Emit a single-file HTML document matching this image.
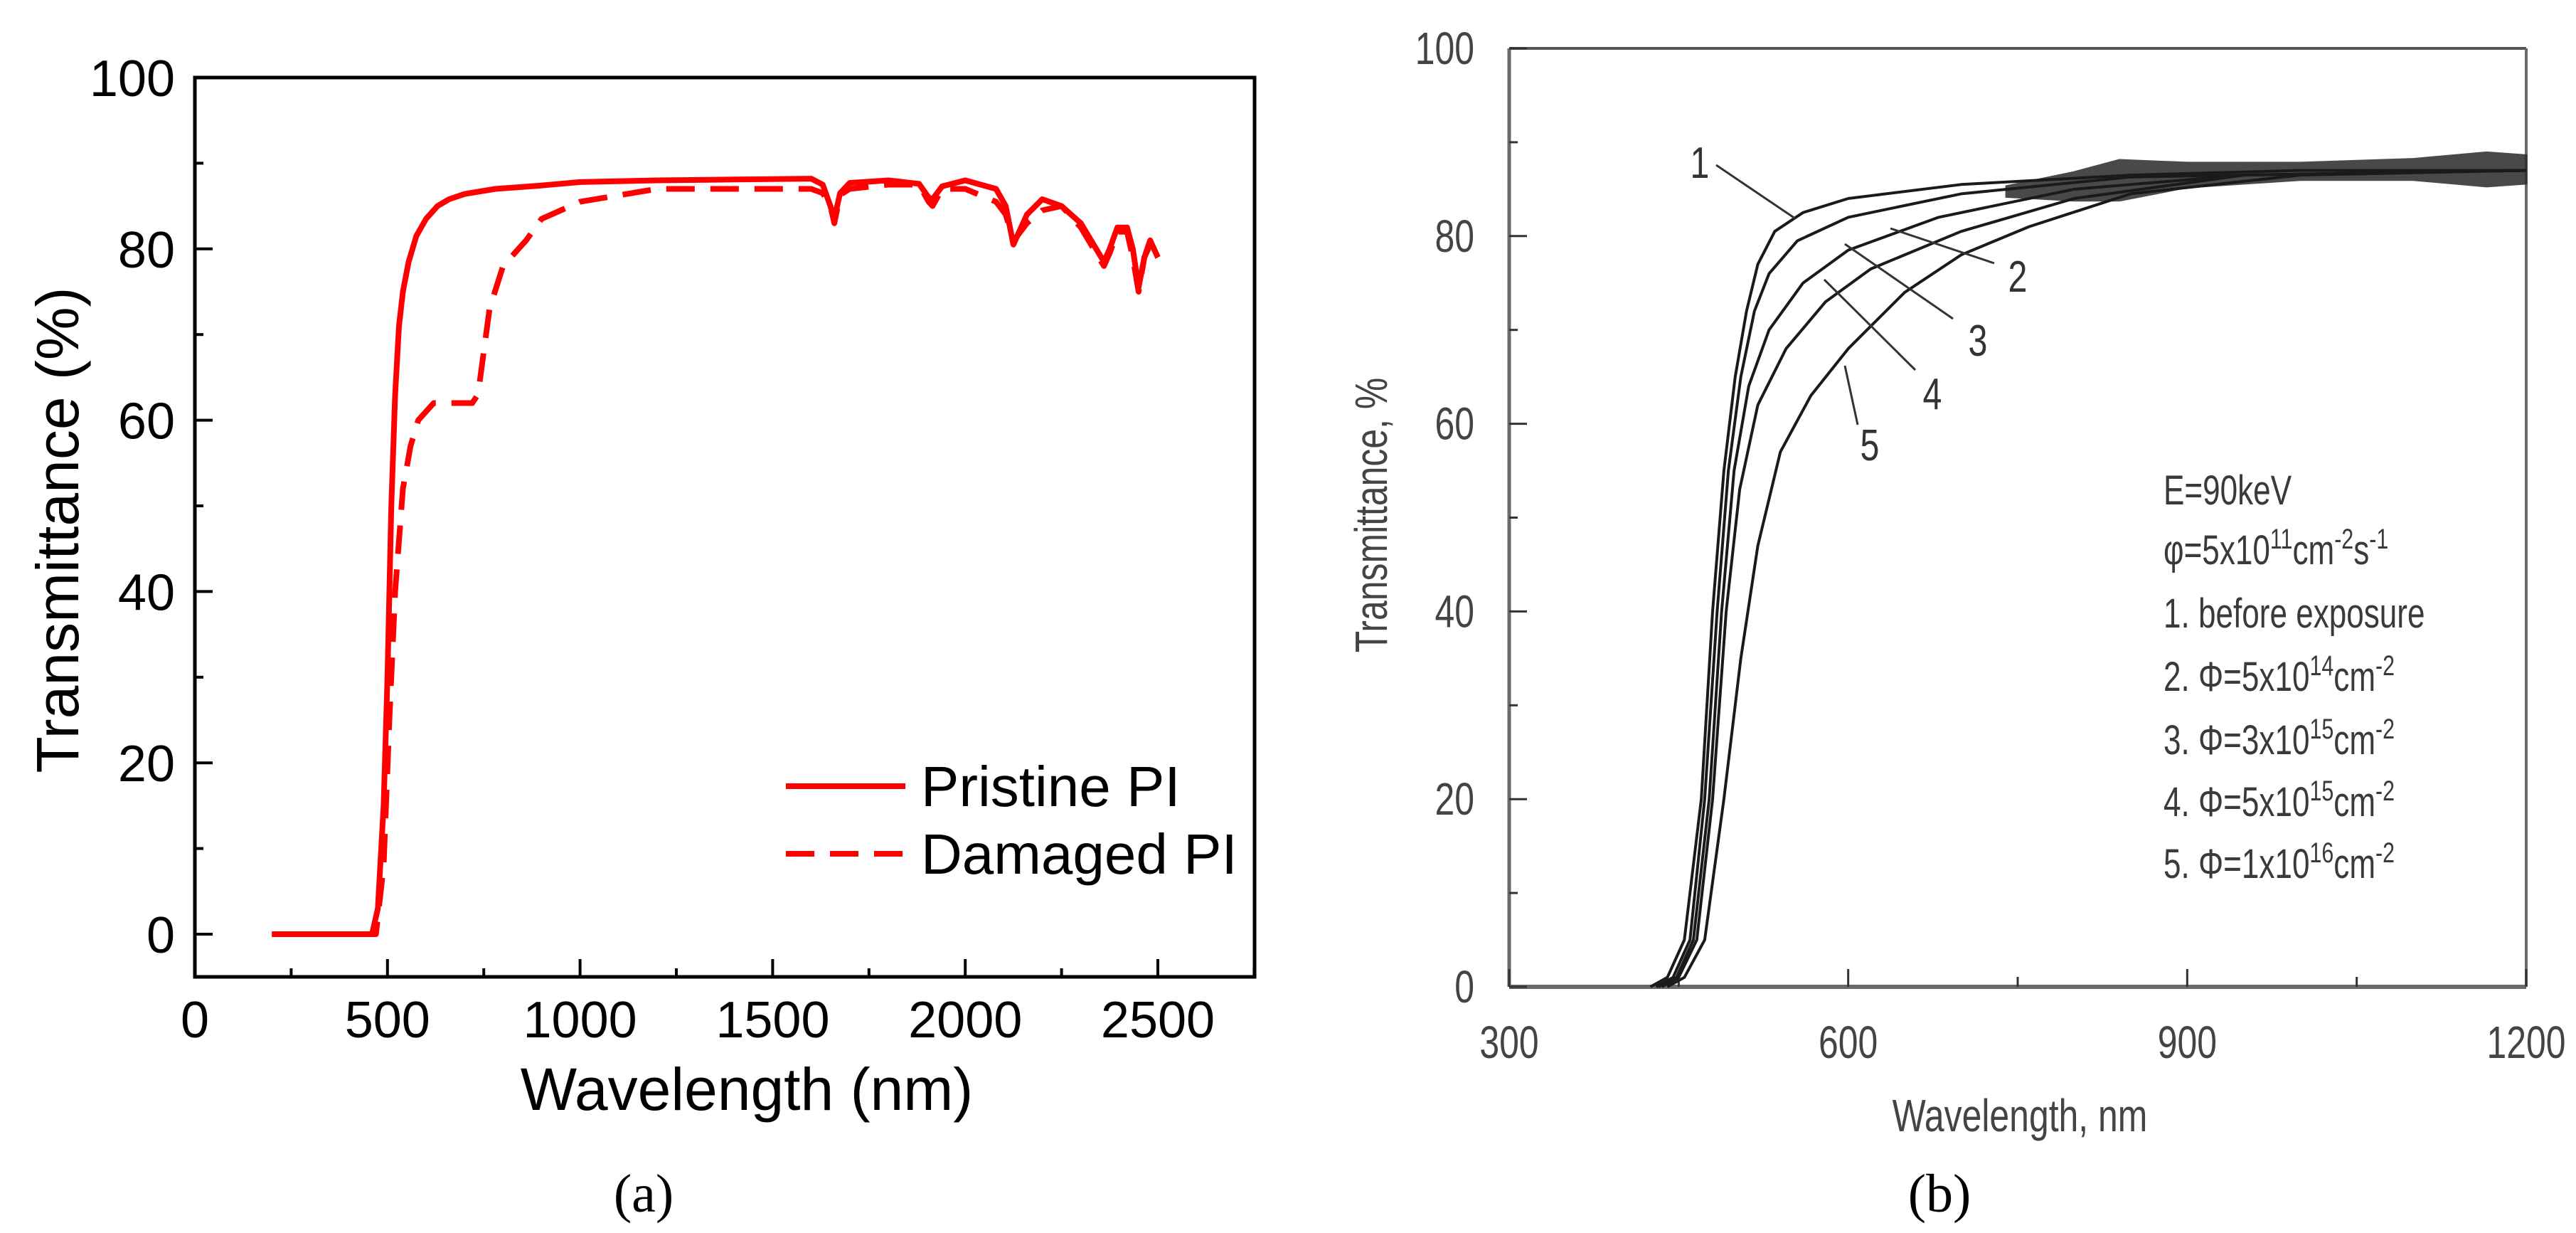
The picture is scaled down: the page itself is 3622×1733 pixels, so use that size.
<!DOCTYPE html>
<html><head><meta charset="utf-8"><style>
html,body{margin:0;padding:0;background:#fff}
svg{display:block}
text{font-family:"Liberation Sans",sans-serif}
</style></head><body>
<svg id="fig" width="3622" height="1733" viewBox="0 0 3622 1733" xmlns="http://www.w3.org/2000/svg">
<g id="pa"></g>
<g id="pb"></g>
<text x="905" y="1703" font-size="76" text-anchor="middle" style="font-family:'Liberation Serif',serif">(a)</text>
<text x="2727" y="1703" font-size="76" text-anchor="middle" style="font-family:'Liberation Serif',serif">(b)</text>
</svg>
<script>
// ---- Panel (a) data ----
const aPristineX = [200,460,475,490,500,510,520,530,540,555,575,600,630,660,700,780,900,1000,1200,1400,1600,1630,1650,1660,1675,1700,1800,1880,1905,1915,1940,2000,2080,2105,2125,2135,2160,2200,2250,2300,2340,2360,2375,2395,2420,2435,2450,2465,2480,2500];
const aPristineY = [0,0,3,15,30,50,63,71,75,78.5,81.5,83.5,85,85.8,86.4,87,87.4,87.8,88,88.1,88.2,87.5,85,83.5,86.5,87.7,88,87.6,86,85.8,87.3,88,87,85,80.5,81.5,84,85.8,85,83,80,78.5,80,82.5,82.5,80,75.5,79,81,79];
const aDamagedX = [200,470,490,505,520,540,560,580,620,680,720,735,750,765,800,860,900,1000,1200,1400,1600,1630,1650,1660,1675,1700,1800,1880,1905,1915,1940,2000,2080,2105,2125,2135,2160,2200,2250,2300,2340,2360,2375,2395,2420,2435,2450,2465,2480,2500];
const aDamagedY = [0,0,8,25,40,52,57,60,62,62,62,63,68,73,78,81,83.5,85.5,87,87,87,86.5,85,83,86.3,87,87.5,87.5,85.5,85,87,87,85.5,84,81,81.5,83,84.5,85,82.5,79.5,78,79.5,82,82,79,75,79,80.5,79];
const aXTicks = [0,500,1000,1500,2000,2500];
const aYTicks = [0,20,40,60,80,100];

// ---- Panel (b) data ----
const bCurve1X = [425,440,455,470,480,490,500,510,520,535,560,600,700,850,1000,1200];
const bCurve1Y = [0,1,5,20,40,55,65,72,77,80.5,82.5,84,85.5,86.5,87,87];
const bCurve2X = [430,445,460,473,484,494,505,517,530,555,600,700,850,1200];
const bCurve2Y = [0,1,5,20,40,55,65,72,76,79.5,82,84.5,86.3,87];
const bCurve3X = [432,448,463,477,488,499,512,530,560,600,680,800,950,1200];
const bCurve3Y = [0,1,5,20,40,55,64,70,75,78.5,82,85,86.5,87];
const bCurve4X = [435,450,466,480,492,504,520,545,580,620,700,800,950,1200];
const bCurve4Y = [0,1,5,20,40,53,62,68,73,76.5,80.5,84,86.5,87];
const bCurve5X = [440,455,473,490,505,520,540,567,600,650,700,760,850,1000,1200];
const bCurve5Y = [0,1,5,20,35,47,57,63,68,74,78,81,84.5,86.5,87];
const bRippleX = [740,800,840,900,1000,1100,1165,1200];
const bRippleHi = [85.3,86.8,88.1,87.8,87.8,88.2,88.9,88.6];
const bRippleLo = [84.2,83.8,83.8,85.2,86,86,85.3,85.6];
const bXTicks = [300,600,900,1200];
const bXMinor = [450,750,1050];
const bYTicks = [0,20,40,60,80,100];
const bYMinor = [10,30,50,70,90];

const NS="http://www.w3.org/2000/svg";
function mk(parent, tag, attrs){const e=document.createElementNS(NS,tag);for(const k in attrs)e.setAttribute(k,attrs[k]);parent.appendChild(e);return e;}
function pathD(xs,ys,sx,sy){return xs.map((x,i)=>(i?'L':'M')+sx(x).toFixed(1)+','+sy(ys[i]).toFixed(1)).join('');}

// ---------- Panel A ----------
const pa=document.getElementById('pa');
const ax=v=>274+(v/2500)*(1628-274);
const ay=v=>1313-(v/100)*(1313-109);
const aLeft=274,aRight=1764,aTop=109,aBot=1373;
let e;
e=mk(pa,'rect',{x:aLeft,y:aTop,width:aRight-aLeft,height:aBot-aTop,fill:'none',stroke:'#000','stroke-width':5});


for(let v=0;v<=2750;v+=250){
  const maj=(v%500===0);
  e=mk(pa,'line',{x1:ax(v),x2:ax(v),y1:aBot,y2:aBot-(maj?25:12),stroke:'#000','stroke-width':4});
  
  
}
aXTicks.forEach(v=>{
  e=mk(pa,'text',{x:ax(v),y:1458,'font-size':72,'text-anchor':'middle'});e.textContent=v;
  
  
});
for(let v=0;v<=100;v+=10){
  const maj=(v%20===0);
  e=mk(pa,'line',{x1:aLeft,x2:aLeft+(maj?25:12),y1:ay(v),y2:ay(v),stroke:'#000','stroke-width':4});
  
  
}
aYTicks.forEach(v=>{
  e=mk(pa,'text',{x:246,y:ay(v)+26,'font-size':72,'text-anchor':'end'});e.textContent=v;
  
  
});
e=mk(pa,'text',{x:1050,y:1560,'font-size':84,'text-anchor':'middle'});e.textContent='Wavelength (nm)';


e=mk(pa,'text',{x:0,y:0,'font-size':84,'text-anchor':'middle',transform:'translate(110,745) rotate(-90)'});e.textContent='Transmittance (%)';


e=mk(pa,'path',{d:pathD(aDamagedX,aDamagedY,ax,ay),fill:'none',stroke:'#ff0000','stroke-width':8,'stroke-dasharray':'40,22','stroke-linejoin':'round'});


e=mk(pa,'path',{d:pathD(aPristineX,aPristineY,ax,ay),fill:'none',stroke:'#ff0000','stroke-width':8,'stroke-linejoin':'round'});


e=mk(pa,'line',{x1:1105,x2:1273,y1:1105,y2:1105,stroke:'#ff0000','stroke-width':8});


e=mk(pa,'text',{x:1295,y:1133,'font-size':80});e.textContent='Pristine PI';


e=mk(pa,'line',{x1:1105,x2:1273,y1:1200,y2:1200,stroke:'#ff0000','stroke-width':8,'stroke-dasharray':'40,22'});


e=mk(pa,'text',{x:1295,y:1228,'font-size':80});e.textContent='Damaged PI';



// ---------- Panel B ----------
const pb=document.getElementById('pb');
const bLeft=2122,bRight=3552,bTop=68,bBot=1387;
const bx=v=>bLeft+(v-300)/900*(bRight-bLeft);
const by=v=>bBot-(v/100)*(bBot-bTop);
const gray='#6a6a6a';
e=mk(pb,'line',{x1:bLeft,x2:bLeft,y1:bTop,y2:bBot,stroke:gray,'stroke-width':5});


e=mk(pb,'line',{x1:bLeft,x2:bRight,y1:bBot,y2:bBot,stroke:gray,'stroke-width':6});


e=mk(pb,'line',{x1:bLeft,x2:bRight,y1:bTop,y2:bTop,stroke:'#555','stroke-width':4});


e=mk(pb,'line',{x1:bRight,x2:bRight,y1:bTop,y2:bBot,stroke:gray,'stroke-width':4});


bXTicks.forEach(v=>{
  e=mk(pb,'line',{x1:bx(v),x2:bx(v),y1:bBot,y2:bBot-25,stroke:'#333','stroke-width':3});
  
  
  e=mk(pb,'text',{x:0,y:0,'font-size':64,'text-anchor':'middle',fill:'#444',transform:'translate('+bx(v)+',1487) scale(0.78,1)'});e.textContent=v;
  
  
});
bXMinor.forEach(v=>{
  e=mk(pb,'line',{x1:bx(v),x2:bx(v),y1:bBot,y2:bBot-14,stroke:'#333','stroke-width':3});
  
  
});
bYTicks.forEach(v=>{
  e=mk(pb,'line',{x1:bLeft,x2:bLeft+25,y1:by(v),y2:by(v),stroke:'#333','stroke-width':3});
  
  
  e=mk(pb,'text',{x:0,y:0,'font-size':64,'text-anchor':'end',fill:'#444',transform:'translate(2073,'+(by(v)+22)+') scale(0.78,1)'});e.textContent=v;
  
  
});
bYMinor.forEach(v=>{
  e=mk(pb,'line',{x1:bLeft,x2:bLeft+12,y1:by(v),y2:by(v),stroke:'#333','stroke-width':3});
  
  
});
e=mk(pb,'text',{x:0,y:0,'font-size':64,'text-anchor':'middle',fill:'#444',transform:'translate(2840,1590) scale(0.78,1)'});e.textContent='Wavelength, nm';


e=mk(pb,'text',{x:0,y:0,'font-size':64,'text-anchor':'middle',fill:'#444',transform:'translate(1950,724) rotate(-90) scale(0.78,1)'});e.textContent='Transmittance, %';


const band=pathD(bRippleX,bRippleHi,bx,by)+pathD(bRippleX.slice().reverse(),bRippleLo.slice().reverse(),bx,by).replace('M','L')+'Z';
e=mk(pb,'path',{d:band,fill:'#2a2a2a',stroke:'#2a2a2a','stroke-width':3,opacity:0.85});


const curves=[[bCurve1X,bCurve1Y],[bCurve2X,bCurve2Y],[bCurve3X,bCurve3Y],[bCurve4X,bCurve4Y],[bCurve5X,bCurve5Y]];
curves.forEach((c,i)=>{
  e=mk(pb,'path',{d:pathD(c[0],c[1],bx,by),fill:'none',stroke:'#1a1a1a','stroke-width':4,'stroke-linejoin':'round'});
  
  
});
const ann=[['1',2390,250,2413,232,2524,307],['2',2837,410,2658,321,2804,370],['3',2781,500,2594,343,2746,448],['4',2717,575,2565,393,2693,520],['5',2629,647,2594,514,2612,597]];
ann.forEach(a=>{
  e=mk(pb,'line',{x1:a[3],y1:a[4],x2:a[5],y2:a[6],stroke:'#333','stroke-width':3});
  
  
  e=mk(pb,'text',{x:0,y:0,'font-size':62,'text-anchor':'middle',fill:'#333',transform:'translate('+a[1]+','+a[2]+') scale(0.78,1)'});e.textContent=a[0];
  
  
});
const leg=[
 ['E=90keV',709],
 ['φ=5x10<tspan dy="-22" font-size="40">11</tspan><tspan dy="22">cm</tspan><tspan dy="-22" font-size="40">-2</tspan><tspan dy="22">s</tspan><tspan dy="-22" font-size="40">-1</tspan>',793],
 ['1. before exposure',882],
 ['2. Φ=5x10<tspan dy="-22" font-size="40">14</tspan><tspan dy="22">cm</tspan><tspan dy="-22" font-size="40">-2</tspan>',971],
 ['3. Φ=3x10<tspan dy="-22" font-size="40">15</tspan><tspan dy="22">cm</tspan><tspan dy="-22" font-size="40">-2</tspan>',1060],
 ['4. Φ=5x10<tspan dy="-22" font-size="40">15</tspan><tspan dy="22">cm</tspan><tspan dy="-22" font-size="40">-2</tspan>',1147],
 ['5. Φ=1x10<tspan dy="-22" font-size="40">16</tspan><tspan dy="22">cm</tspan><tspan dy="-22" font-size="40">-2</tspan>',1234]
];
leg.forEach(l=>{
  e=mk(pb,'text',{x:0,y:0,'font-size':58,fill:'#3a3a3a',transform:'translate(3042,'+l[1]+') scale(0.76,1)'});
  e.innerHTML=l[0];
  
  
});
</script>
</body></html>
